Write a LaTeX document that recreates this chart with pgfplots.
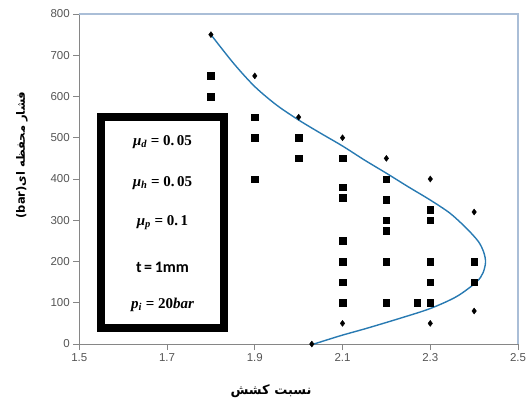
\documentclass[border=0pt]{standalone}
\usepackage[no-math]{fontspec}
\usepackage{pgfplots}
\pgfplotsset{compat=1.18}
\setmainfont{Liberation Sans}
\newfontfamily\arabicfont[Script=Arabic]{DejaVu Sans}
\newfontfamily\carlito{Carlito}
\newfontfamily\lserif{Liberation Serif}
\TeXXeTstate=1
\definecolor{curveblue}{RGB}{40,122,178}
\definecolor{frameblue}{RGB}{170,190,215}
\definecolor{axisgray}{RGB}{134,134,134}
\definecolor{ticklab}{RGB}{85,85,85}

\pgfplotstableread{
x y
1.800 750
1.852 680
1.900 624
1.950 579
2.000 543
2.050 511
2.100 480
2.150 446
2.200 414
2.250 381
2.300 349
2.345 317
2.383 280
2.410 248
2.422 222
2.426 198
2.420 172
2.405 150
2.360 115
2.300 86
2.230 62
2.155 38
2.095 20
2.035 0
}\curvedata

\pgfplotstableread{
x y
1.8 650
1.8 600
1.9 550
1.9 500
1.9 400
2.0 500
2.0 450
2.1 450
2.1 380
2.1 355
2.1 250
2.1 200
2.1 150
2.1 100
2.2 400
2.2 350
2.2 300
2.2 275
2.2 200
2.2 100
2.27 100
2.3 325
2.3 300
2.3 200
2.3 150
2.3 100
2.4 200
2.4 150
}\squaredata

\pgfplotstableread{
x y
1.8 750
1.9 650
2.0 550
2.1 500
2.2 450
2.3 400
2.4 320
2.4 80
2.3 50
2.1 50
2.03 0
}\diamonddata

\newcommand{\boxfont}{\fontsize{15}{17}\selectfont\lserif\bfseries}

\begin{document}
\begin{tikzpicture}
\begin{axis}[
  scale only axis, width=438.7pt, height=330pt,
  xmin=1.5, xmax=2.5, ymin=0, ymax=800,
  axis x line*=bottom, axis y line*=left,
  axis line style={axisgray, line width=1pt},
  xtick={1.5,1.7,1.9,2.1,2.3,2.5},
  xticklabels={1.5,1.7,1.9,2.1,2.3,2.5},
  ytick={0,100,200,300,400,500,600,700,800},
  tick style={axisgray, line width=0.8pt},
  tick align=outside, major tick length=6pt,
  tick label style={font=\fontsize{11.5}{13}\selectfont, text=ticklab},
  /pgf/number format/assume math mode=true,
  clip=false,
]
\draw[frameblue, line width=1.5pt] (rel axis cs:0,1) -- (rel axis cs:1,1) -- (rel axis cs:1,0);
\coordinate (ll) at (rel axis cs:0,0);
\addplot[curveblue, line width=1.4pt, smooth, tension=0.5, no marks] table {\curvedata};
\addplot[only marks, mark=square*, mark size=3.3pt, black] table {\squaredata};
\addplot[only marks, mark=diamond*, mark size=3pt, black] table {\diamonddata};
\end{axis}
\draw[line width=8pt, fill=white] ([shift={(21.4pt,16.3pt)}]ll) rectangle ([shift={(145pt,226.7pt)}]ll);
\node[xshift=83.2pt, yshift=202.3pt] at (ll) {\boxfont{\itshape μ\textsubscript{d}} = 0.\,05};
\node[xshift=83.2pt, yshift=161pt] at (ll) {\boxfont{\itshape μ\textsubscript{h}} = 0.\,05};
\node[xshift=83.2pt, yshift=121pt] at (ll) {\boxfont{\itshape μ\textsubscript{p}} = 0.\,1};
\node[xshift=83.2pt, yshift=77pt] at (ll) {\fontsize{16}{18}\selectfont\carlito\bfseries t\,=\,1mm};
\node[xshift=83.2pt, yshift=39pt] at (ll) {\boxfont{\itshape p\textsubscript{i}} = 20{\itshape bar}};
\node[rotate=90, xshift=189pt, yshift=57.3pt] at (ll) {\fontsize{11.5}{13}\selectfont\arabicfont\bfseries\beginR فشار محفظه ای\beginL(bar)\endL\endR};
\node[xshift=191.7pt, yshift=-47pt] at (ll) {\fontsize{13}{15}\selectfont\arabicfont\bfseries\beginR نسبت کشش\endR};
\pgfresetboundingbox
\path[use as bounding box] ([shift={(-79.3pt,-61pt)}]ll) rectangle ([shift={(447.7pt,344pt)}]ll);
\end{tikzpicture}
\end{document}
